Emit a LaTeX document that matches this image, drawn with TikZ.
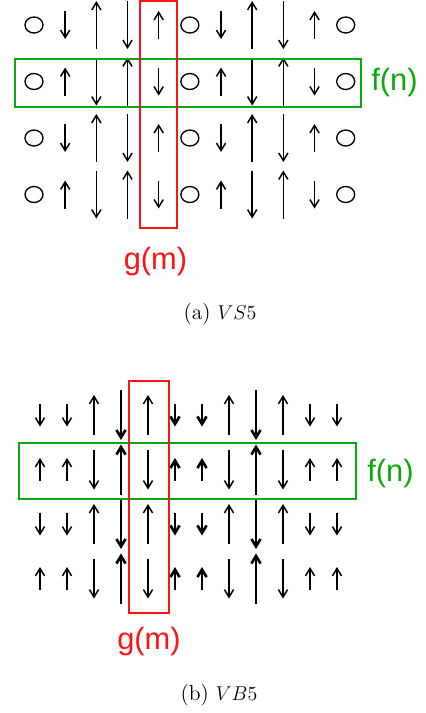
\documentclass[tikz,border=0pt]{standalone}
\usepackage{amsmath,amssymb}
\usepackage{fontspec}
\newfontfamily\labelfont{Liberation Sans}
\usepackage{tikz}
\usetikzlibrary{arrows.meta,calc}
\definecolor{fgreen}{RGB}{10,170,10}
\definecolor{gred}{RGB}{250,20,20}
\tikzset{
  spin/.style={line width=0.9pt,-{Straight Barb[length=4.5pt,width=5.5pt]}},
  spinbold/.style={line width=1.6pt,-{Straight Barb[length=4.5pt,width=5.5pt]}},
  hole/.style={line width=0.8pt},
  rowbox/.style={color=fgreen,line width=1.1pt},
  colbox/.style={color=gred,line width=1.1pt},
  fnlabel/.style={text=fgreen,inner sep=0pt,font=\labelfont\fontsize{18.5}{20}\selectfont},
  gmlabel/.style={text=gred,inner sep=0pt,font=\labelfont\fontsize{18.5}{20}\selectfont},
  caplabel/.style={inner sep=0pt,font=\fontsize{13}{15}\selectfont}
}
\begin{document}
\begin{tikzpicture}[x=0.6pt,y=-0.6pt]
    \useasboundingbox (0,0) rectangle (426,713);
    % (a) VS5
    \foreach \r in {0,...,3} {
      \pgfmathsetmacro{\y}{25+56.5*\r}
      \pgfmathsetmacro{\s}{1-2*mod(\r,2)}
      \foreach \i in {0,5,10}
        \draw[hole] ({34+31.17*\i},\y) ellipse (9 and 8);
      \foreach \i/\d/\l in {1/1/28, 2/-1/48, 3/1/48, 4/-1/28, 6/1/28, 7/-1/48, 8/1/48, 9/-1/28}
        \draw[spin] ({34+31.17*\i},{\y-\d*\s*\l/2}) -- ({34+31.17*\i},{\y+\d*\s*\l/2});
    }
    % (b) VB5
    \foreach \r in {0,...,3} {
      \pgfmathsetmacro{\y}{415+54.5*\r}
      \pgfmathsetmacro{\s}{1-2*mod(\r,2)}
      \foreach \i/\d/\l in {0/1/23, 1/1/23, 2/-1/40, 4/-1/40, 7/-1/40, 9/-1/40, 10/1/23, 11/1/23}
        \draw[spin] ({40+27*\i},{\y-\d*\s*\l/2}) -- ({40+27*\i},{\y+\d*\s*\l/2});
      \foreach \i/\d/\l in {3/1/50, 5/1/23, 6/1/23, 8/1/50}
        \draw[spinbold] ({40+27*\i},{\y-\d*\s*\l/2}) -- ({40+27*\i},{\y+\d*\s*\l/2});
    }
    % boxes and labels
    \draw[rowbox] (14.7,58.7) rectangle (361,106.7);
    \draw[colbox] (140,1) rectangle (176.7,227.7);
    \draw[rowbox] (19,443.3) rectangle (356,499.3);
    \draw[colbox] (129.3,381.3) rectangle (169.3,613.3);
    \node[fnlabel,anchor=west] (fna) at (371,83) {f(n)};
    \node[gmlabel] (gma) at (155.5,262) {g(m)};
    \node[fnlabel,anchor=west] (fnb) at (367,474) {f(n)};
    \node[gmlabel] (gmb) at (149,642) {g(m)};
    \node[caplabel] (capa) at (220,314) {(a) $VS5$};
    \node[caplabel] (capb) at (219,695) {(b) $VB5$};
\end{tikzpicture}
\end{document}
